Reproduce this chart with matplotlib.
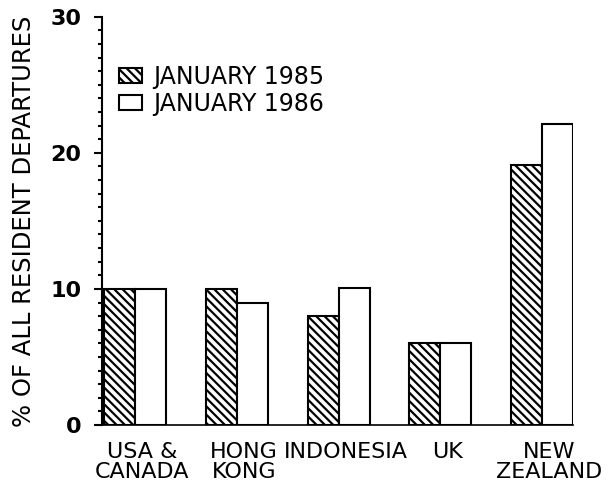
import matplotlib
matplotlib.use('Agg')
import matplotlib.pyplot as plt
import matplotlib.transforms as mtransforms
import numpy as np

# data
countries = ['USA &\nCANADA', 'HONG\nKONG', 'INDONESIA', 'UK', 'NEW\nZEALAND']
jan_1985 = [10, 10, 8, 6, 19.1]
jan_1986 = [10, 9, 10.1, 6, 22.1]
series_labels = ['JANUARY 1985', 'JANUARY 1986']

plt.rcParams['font.family'] = ['DejaVu Sans']
plt.rcParams['hatch.linewidth'] = 1.6

fig = plt.figure(figsize=(6.15, 4.86), dpi=100)
ax = fig.add_axes([0.166, 0.1255, 0.766, 0.84])

x = np.arange(len(countries))
w = 0.305
ax.bar(x - w / 2, jan_1985, w, color='white', edgecolor='black', linewidth=1.5,
       hatch='\\\\\\\\', label=series_labels[0])
ax.bar(x + w / 2, jan_1986, w, color='white', edgecolor='black', linewidth=1.5,
       label=series_labels[1])

ax.set_xlim(-0.325, x[-1] + w)
ax.set_ylim(0, 30)
ax.set_yticks([0, 10, 20, 30])
ax.set_yticks(np.arange(0, 31, 1), minor=True)
ax.tick_params(axis='y', which='major', length=6, width=1.5, direction='out',
               labelsize=16, pad=9)
ax.tick_params(axis='y', which='minor', length=3, width=1.5, direction='out')
for lbl in ax.get_yticklabels():
    lbl.set_fontweight('bold')
ax.set_xticks(x)
ax.set_xticklabels(countries, fontsize=16, linespacing=1.05)
ax.tick_params(axis='x', length=0, pad=12)
# labels sit a little right of the group centres in the original
shift = mtransforms.ScaledTranslation(7 / 100, 0, fig.dpi_scale_trans)
for lbl in ax.get_xticklabels():
    lbl.set_transform(lbl.get_transform() + shift)

for s in ['top', 'right']:
    ax.spines[s].set_visible(False)
ax.spines['left'].set_linewidth(1.5)
ax.spines['bottom'].set_linewidth(1.2)

ax.set_ylabel('% OF ALL RESIDENT DEPARTURES', fontsize=17.5, labelpad=10)

leg = ax.legend(loc='upper left', bbox_to_anchor=(0.015, 0.905), frameon=False,
                fontsize=17, handlelength=1.0, handleheight=0.62,
                handletextpad=0.45, labelspacing=0.12, borderaxespad=0)

fig.savefig('out.png', dpi=100)
